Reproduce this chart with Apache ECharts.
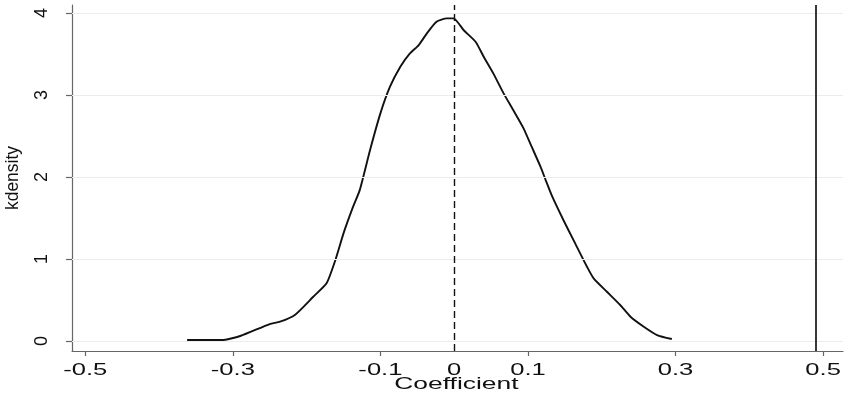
<!DOCTYPE html>
<html>
<head>
<meta charset="utf-8">
<script src="https://cdn.jsdelivr.net/npm/echarts@6/dist/echarts.min.js"></script>
<style>
html, body { margin: 0; padding: 0; background: #fff; }
#chart { width: 850px; height: 396px; }
</style>
</head>
<body>
<div id="chart"></div>
<script>
// kernel density of the coefficient
var coefX = [-0.362, -0.315, -0.290, -0.250, -0.236, -0.216, -0.191, -0.173, -0.161, -0.150,
    -0.137, -0.128, -0.114, -0.100, -0.087, -0.073, -0.060, -0.048, -0.037, -0.024, -0.010, -0.001,
    0.013, 0.029, 0.040, 0.053, 0.067, 0.080, 0.094, 0.105, 0.117, 0.124, 0.133, 0.148, 0.164,
    0.180, 0.189, 0.207, 0.225, 0.239, 0.257, 0.275, 0.295];
var density = [0.012, 0.012, 0.061, 0.207, 0.235, 0.317, 0.540, 0.703, 0.988, 1.313,
    1.638, 1.84, 2.33, 2.776, 3.101, 3.345, 3.508, 3.61, 3.752, 3.894, 3.935, 3.935,
    3.79, 3.65, 3.467, 3.264, 3.02, 2.817, 2.594, 2.37, 2.126, 1.963, 1.76, 1.476, 1.19,
    0.906, 0.764, 0.601, 0.439, 0.296, 0.174, 0.073, 0.024];
var xTicks = [-0.5, -0.3, -0.1, 0.1, 0.3, 0.5];
var xLabels = [-0.5, -0.3, -0.1, 0, 0.1, 0.3, 0.5];
var yTicks = [0, 1, 2, 3, 4];
var dashedAt = -0.001;  // xline, dashed
var solidAt = 0.487;    // xline, solid

var pts = [];
for (var i = 0; i < coefX.length; i++) pts.push([coefX[i], density[i]]);

var chart = echarts.init(document.getElementById('chart'));
var font = 'Liberation Sans';
var axisCol = '#666';
chart.setOption({
    animation: false,
    grid: { left: 72, right: 7, top: 5, bottom: 45, outerBoundsMode: 'none' },
    xAxis: {
        type: 'value',
        min: -0.518,
        max: 0.527,
        axisLine: { show: true, onZero: false, lineStyle: { color: axisCol, width: 1.2 } },
        axisTick: { show: true, customValues: xTicks, length: 5, lineStyle: { color: axisCol, width: 1.2 } },
        // the x labels are drawn below as wide (stretched) text
        axisLabel: { show: false },
        splitLine: { show: false }
    },
    yAxis: {
        type: 'value',
        min: -0.122,
        max: 4.098,
        name: 'kdensity',
        nameLocation: 'middle',
        nameRotate: 90,
        nameGap: 50,
        nameTextStyle: { fontFamily: font, fontSize: 17.5, color: '#111' },
        axisLine: { show: true, onZero: false, lineStyle: { color: axisCol, width: 1.2 } },
        axisTick: { show: true, customValues: yTicks, length: 6, lineStyle: { color: axisCol, width: 1.2 } },
        axisLabel: {
            show: true, customValues: yTicks, rotate: 90,
            fontFamily: font, fontSize: 18, color: '#111', margin: 21
        },
        splitLine: { show: false }
    },
    series: [{
        type: 'line',
        data: pts,
        showSymbol: false,
        smooth: 0.2,
        lineStyle: { color: '#111', width: 1.9 },
        markLine: {
            silent: true,
            symbol: 'none',
            label: { show: false },
            data: yTicks.map(function (t) {
                return { yAxis: t, lineStyle: { color: '#e6eff0', width: 1, type: 'solid' } };
            }).concat([
                { xAxis: dashedAt, lineStyle: { color: '#111', width: 1.4, type: [7, 4] } },
                { xAxis: solidAt, lineStyle: { color: '#222', width: 1.8, type: 'solid' } }
            ])
        }
    }]
});

// Stata's x labels are wide: put them at the axis positions and stretch them
var labelEls = xLabels.map(function (v) {
    return {
        type: 'text',
        x: chart.convertToPixel({ xAxisIndex: 0 }, v),
        y: 362,
        scaleX: 1.55,
        silent: true,
        style: {
            text: String(v), fontFamily: font, fontSize: 16.5, fill: '#111',
            textAlign: 'center', textVerticalAlign: 'top'
        }
    };
});
labelEls.push({
    type: 'text',
    x: chart.convertToPixel({ xAxisIndex: 0 }, 0.003),
    y: 376,
    scaleX: 1.6,
    silent: true,
    style: {
        text: 'Coefficient', fontFamily: font, fontSize: 16.5, fill: '#111',
        textAlign: 'center', textVerticalAlign: 'top'
    }
});
chart.setOption({ graphic: labelEls });
</script>
</body>
</html>
